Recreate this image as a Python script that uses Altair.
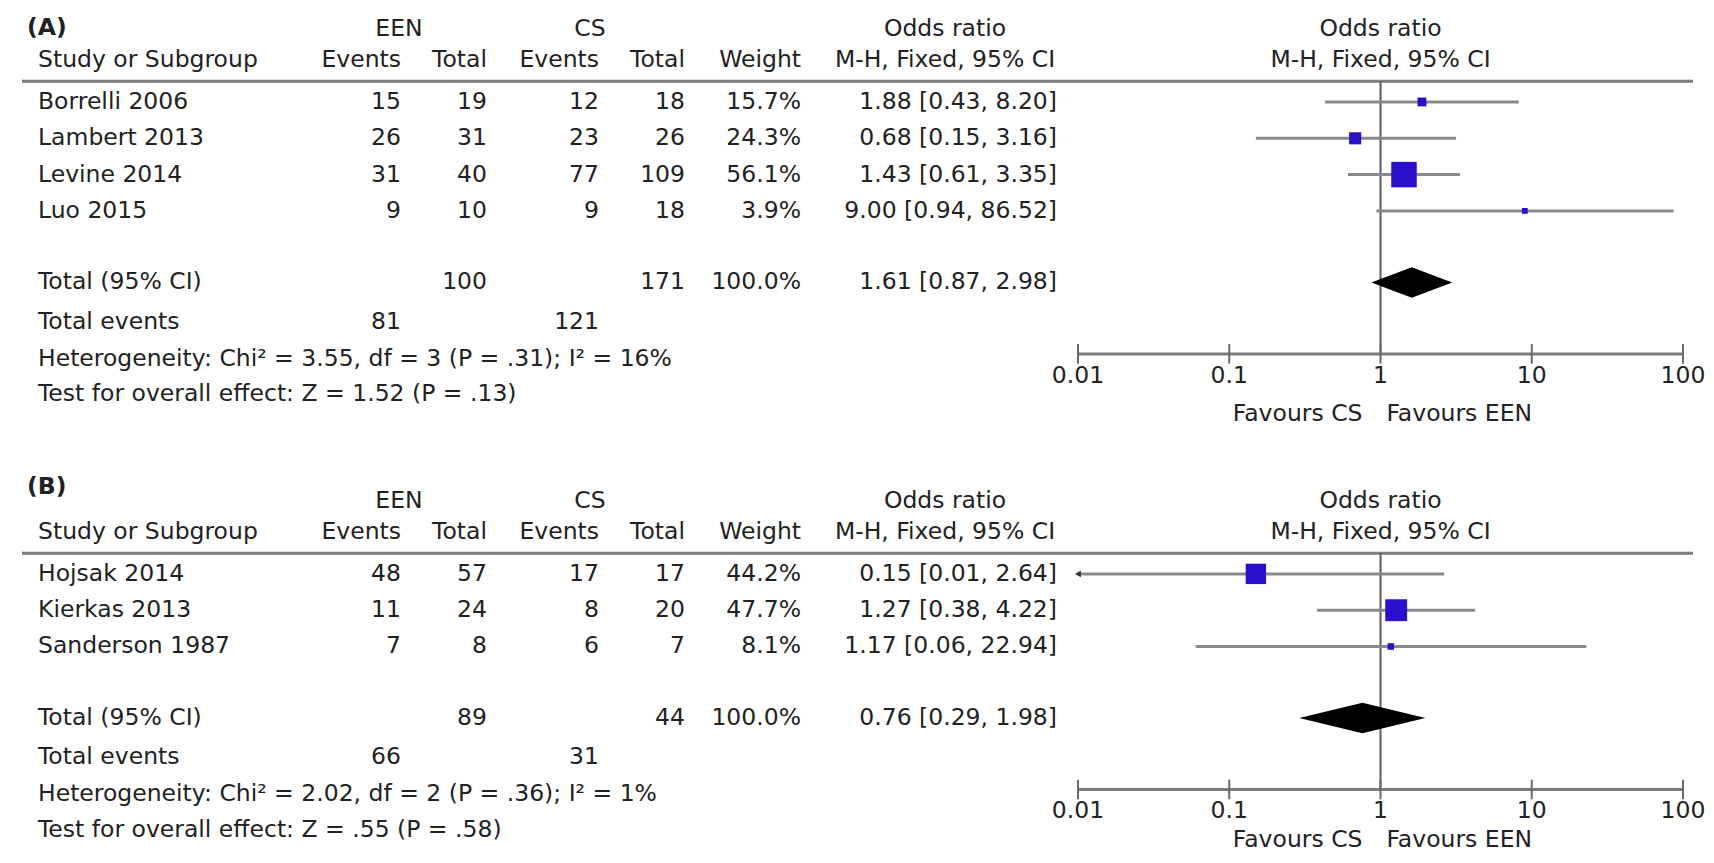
import altair as alt
import pandas as pd

# ---------------- data ----------------
STUDIES_A = ["Borrelli 2006", "Lambert 2013", "Levine 2014", "Luo 2015"]
EEN_EVENTS_A = [15, 26, 31, 9]
EEN_TOTAL_A = [19, 31, 40, 10]
CS_EVENTS_A = [12, 23, 77, 9]
CS_TOTAL_A = [18, 26, 109, 18]
WEIGHT_A = [15.7, 24.3, 56.1, 3.9]
OR_A = [1.88, 0.68, 1.43, 9.00]
LO_A = [0.43, 0.15, 0.61, 0.94]
HI_A = [8.20, 3.16, 3.35, 86.52]
POOLED_A = [1.61, 0.87, 2.98]          # estimate, lower, upper
HET_A = "Heterogeneity: Chi² = 3.55, df = 3 (P = .31); I² = 16%"
TEST_A = "Test for overall effect: Z = 1.52 (P = .13)"

STUDIES_B = ["Hojsak 2014", "Kierkas 2013", "Sanderson 1987"]
EEN_EVENTS_B = [48, 11, 7]
EEN_TOTAL_B = [57, 24, 8]
CS_EVENTS_B = [17, 8, 6]
CS_TOTAL_B = [17, 20, 7]
WEIGHT_B = [44.2, 47.7, 8.1]
OR_B = [0.15, 1.27, 1.17]
LO_B = [0.01, 0.38, 0.06]
HI_B = [2.64, 4.22, 22.94]
POOLED_B = [0.76, 0.29, 1.98]          # estimate, lower, upper
HET_B = "Heterogeneity: Chi² = 2.02, df = 2 (P = .36); I² = 1%"
TEST_B = "Test for overall effect: Z = .55 (P = .58)"

TICKS = [0.01, 0.1, 1, 10, 100]
TICK_LABELS = ["0.01", "0.1", "1", "10", "100"]
GROUP_LABELS = ["EEN", "CS"]
COL_HEADERS = ["Study or Subgroup", "Events", "Total", "Events", "Total", "Weight"]
OR_HEAD = ["Odds ratio", "M-H, Fixed, 95% CI"]
FAVOURS = ["Favours CS", "Favours EEN"]

# ---------------- layout ----------------
W, H = 1698, 847
FONT = "DejaVu Sans"
FS = 23.5
TXT = "#222222"
GREY = "#7d7d7d"
YS = alt.Scale(domain=[-0.0895, 23.244], reverse=True, zero=False, nice=False)
XS = alt.Scale(type="log", domain=[TICKS[0], TICKS[-1]], range=[1070, 1675], nice=False)
COLX = {"label": 19, "study": 30, "een_ev": 393, "een_tot": 479, "cs_ev": 591,
        "cs_tot": 677, "weight": 793, "or": 1049, "een_c": 391, "cs_c": 582, "or_c": 937}
ALIGN = {"label": "left", "study": "left", "een_ev": "right", "een_tot": "right",
         "cs_ev": "right", "cs_tot": "right", "weight": "right", "or": "right",
         "een_c": "center", "cs_c": "center", "or_c": "center"}

panels = [
    dict(name="A", label="(A)", g=2.5, loff=2.05, fav=1.65, studies=STUDIES_A, ee=EEN_EVENTS_A,
         et=EEN_TOTAL_A, ce=CS_EVENTS_A, ct=CS_TOTAL_A, w=WEIGHT_A, orr=OR_A, lo=LO_A, hi=HI_A,
         pooled=POOLED_A, het=HET_A, test=TEST_A),
    dict(name="B", label="(B)", g=15.5, loff=2.4, fav=1.4, studies=STUDIES_B, ee=EEN_EVENTS_B,
         et=EEN_TOTAL_B, ce=CS_EVENTS_B, ct=CS_TOTAL_B, w=WEIGHT_B, orr=OR_B, lo=LO_B, hi=HI_B,
         pooled=POOLED_B, het=HET_B, test=TEST_B),
]

def fmt_or(o, l, h):
    return f"{o:.2f} [{l:.2f}, {h:.2f}]"

text_rows, plot_text, rules, vref, studies_rows, diam, axis_rows, tick_rows = [], [], [], [], [], [], [], []
for p in panels:
    g, n = p["g"], len(p["studies"])
    def add(col, t, y):
        text_rows.append(dict(col=col, t=t, y=y))
    add("label", p["label"], g - p["loff"])
    add("een_c", GROUP_LABELS[0], g - 2.02)
    add("cs_c", GROUP_LABELS[1], g - 2.02)
    add("or_c", OR_HEAD[0], g - 2.02)
    for col, t in zip(["study", "een_ev", "een_tot", "cs_ev", "cs_tot", "weight"], COL_HEADERS):
        add(col, t, g - 1.15)
    add("or_c", OR_HEAD[1], g - 1.15)
    for i in range(n):
        y = g + i
        add("study", p["studies"][i], y)
        add("een_ev", str(p["ee"][i]), y)
        add("een_tot", str(p["et"][i]), y)
        add("cs_ev", str(p["ce"][i]), y)
        add("cs_tot", str(p["ct"][i]), y)
        add("weight", f"{p['w'][i]:.1f}%", y)
        add("or", fmt_or(p["orr"][i], p["lo"][i], p["hi"][i]), y)
        studies_rows.append(dict(y=y, orr=p["orr"][i], lo=p["lo"][i], hi=p["hi"][i], w=p["w"][i]))
    yt = g + n + 0.97
    add("study", "Total (95% CI)", yt)
    add("een_tot", str(sum(p["et"])), yt)
    add("cs_tot", str(sum(p["ct"])), yt)
    add("weight", f"{sum(p['w']):.1f}%", yt)
    add("or", fmt_or(*p["pooled"]), yt)
    add("study", "Total events", g + n + 2.05)
    add("een_ev", str(sum(p["ee"])), g + n + 2.05)
    add("cs_ev", str(sum(p["ce"])), g + n + 2.05)
    add("study", p["het"], g + n + 3.07)
    add("study", p["test"], g + n + 4.05)

    ya = g + n + 2.94
    plot_text.append(dict(xv=1, t=OR_HEAD[0], y=g - 2.02, al="c"))
    plot_text.append(dict(xv=1, t=OR_HEAD[1], y=g - 1.15, al="c"))
    for tv, tl in zip(TICKS, TICK_LABELS):
        plot_text.append(dict(xv=tv, t=tl, y=ya + 0.6, al="c"))
        tick_rows.append(dict(xv=tv, y=ya - 0.27, y2=ya + 0.27))
    plot_text.append(dict(xv=1, t=FAVOURS[0], y=ya + p["fav"], al="r"))
    plot_text.append(dict(xv=1, t=FAVOURS[1], y=ya + p["fav"], al="l"))
    rules.append(dict(y=g - 0.57))
    vref.append(dict(xv=1, y=g - 0.57, y2=ya))
    axis_rows.append(dict(x1=TICKS[0], x2=TICKS[-1], y=ya))
    est_, lo_, hi_ = p["pooled"]
    # diamond as polygon vertices: left, top, right, bottom
    for k, (vx, vy) in enumerate([(lo_, yt), (est_, yt - 0.42), (hi_, yt), (est_, yt + 0.42), (lo_, yt)]):
        diam.append(dict(panel=p["name"], k=k, vx=vx, vy=vy))

tdf = pd.DataFrame(text_rows)
pdf = pd.DataFrame(plot_text)
sdf = pd.DataFrame(studies_rows)
ddf = pd.DataFrame(diam)

def Y(f="y"):
    return alt.Y(f"{f}:Q", scale=YS, axis=None)

layers = []
# horizontal header rules
layers.append(alt.Chart(pd.DataFrame(rules)).mark_rule(color=GREY, strokeWidth=3).encode(
    x=alt.value(14), x2=alt.value(1685), y=Y()))
# vertical line at OR = 1
layers.append(alt.Chart(pd.DataFrame(vref)).mark_rule(color="#5a5a5a", strokeWidth=2).encode(
    x=alt.X("xv:Q", scale=XS, axis=None), y=Y(), y2="y2:Q"))
# axis lines and ticks
layers.append(alt.Chart(pd.DataFrame(axis_rows)).mark_rule(color=GREY, strokeWidth=3).encode(
    x=alt.X("x1:Q", scale=XS, axis=None), x2="x2:Q", y=Y()))
layers.append(alt.Chart(pd.DataFrame(tick_rows)).mark_rule(color="#6a6a6a", strokeWidth=2).encode(
    x=alt.X("xv:Q", scale=XS, axis=None), y=Y(), y2="y2:Q"))
# confidence intervals
layers.append(alt.Chart(sdf).mark_rule(color="#8a8a8a", strokeWidth=3).encode(
    x=alt.X("lo:Q", scale=XS, axis=None), x2="hi:Q", y=Y()))
# truncated CI arrow
layers.append(alt.Chart(sdf).transform_filter(alt.datum.lo <= TICKS[0]).mark_point(
    shape="triangle-left", filled=True, color="#333333", size=45, opacity=1).encode(
    x=alt.X("lo:Q", scale=XS, axis=None), y=Y()))
# study squares (box size proportional to weight)
layers.append(alt.Chart(sdf).mark_square(color="#2a10cc", opacity=1).encode(
    x=alt.X("orr:Q", scale=XS, axis=None), y=Y(),
    size=alt.Size("w:Q", scale=alt.Scale(type="pow", exponent=2, domain=[0, 100], range=[30, 2000]), legend=None)))
# pooled diamonds (filled closed line path)
layers.append(alt.Chart(ddf).mark_line(filled=True, color="black", fill="black", strokeWidth=1,
                                       interpolate="linear").encode(
    x=alt.X("vx:Q", scale=XS, axis=None), y=Y("vy"), order="k:Q", detail="panel:N"))

# table text
for col in COLX:
    layers.append(alt.Chart(tdf).transform_filter(alt.datum.col == col).mark_text(
        align=ALIGN[col], baseline="middle", font=FONT, fontSize=FS, color=TXT,
        fontWeight="bold" if col == "label" else "normal").encode(
        x=alt.value(COLX[col]), y=Y(), text="t:N"))
# plot-area text (headers, tick labels, favours)
for al, align, dx in [("c", "center", 0), ("r", "right", -18), ("l", "left", 6)]:
    layers.append(alt.Chart(pdf).transform_filter(alt.datum.al == al).mark_text(
        align=align, baseline="middle", font=FONT, fontSize=FS, color=TXT, dx=dx).encode(
        x=alt.X("xv:Q", scale=XS, axis=None), y=Y(), text="t:N"))

chart = alt.layer(*layers).properties(
    width=W, height=H, padding=0, autosize=alt.AutoSizeParams(type="none")
).configure_view(stroke=None)

chart.save("out.html", embed_options={"renderer": "svg", "actions": False})
